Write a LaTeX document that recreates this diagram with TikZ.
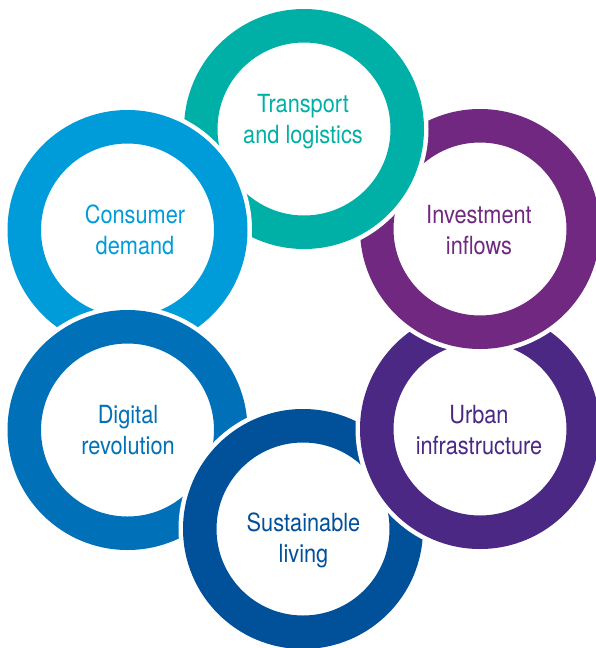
\documentclass[tikz,border=0pt]{standalone}
\usepackage{fontspec}
\setmainfont{TeX Gyre Heros}[FakeStretch=0.87]
\definecolor{colTea}{RGB}{0,176,166}
\definecolor{colCon}{RGB}{0,156,218}
\definecolor{colInv}{RGB}{112,40,128}
\definecolor{colUrb}{RGB}{75,40,132}
\definecolor{colDig}{RGB}{0,113,185}
\definecolor{colSus}{RGB}{0,80,154}
\tikzset{ringlabel/.style={anchor=base, inner sep=0pt, font=\fontsize{25}{31}\selectfont}}
\newcommand\myring[2]{%
  \fill[white] (#1) circle (124.5pt);
  \fill[#2, even odd rule] (#1) circle (120pt) circle (86.5pt);}
\begin{document}
\begin{tikzpicture}[x=1pt,y=-1pt]
\fill[white] (0,0) rectangle (596,648);
\useasboundingbox (0,0) rectangle (596,648);
\coordinate (cT) at (304,129);
\coordinate (cI) at (480,229);
\coordinate (cU) at (480,429);
\coordinate (cS) at (303,529);
\coordinate (cD) at (127.5,430);
\coordinate (cC) at (127.5,230);
\myring{cD}{colDig}
\myring{cS}{colSus}
\myring{cU}{colUrb}
\myring{cI}{colInv}
\myring{cT}{colTea}
\myring{cC}{colCon}
\begin{scope}
  \clip (0,250) rectangle (270,390);
  \myring{cD}{colDig}
\end{scope}
\node[ringlabel, text=colTea] (tT) at (303,112) {\begin{tabular}[t]{@{}c@{}}Transport\\and logistics\end{tabular}};
\node[ringlabel, text=colCon] (tC) at (135,223) {\begin{tabular}[t]{@{}c@{}}Consumer\\demand\end{tabular}};
\node[ringlabel, text=colInv] (tI) at (479,223) {\begin{tabular}[t]{@{}c@{}}Investment\\inflows\end{tabular}};
\node[ringlabel, text=colDig] (tD) at (128,423) {\begin{tabular}[t]{@{}c@{}}Digital\\revolution\end{tabular}};
\node[ringlabel, text=colUrb] (tU) at (479,423) {\begin{tabular}[t]{@{}c@{}}Urban\\infrastructure\end{tabular}};
\node[ringlabel, text=colSus] (tS) at (303.5,531) {\begin{tabular}[t]{@{}c@{}}Sustainable\\living\end{tabular}};
\end{tikzpicture}
\end{document}
